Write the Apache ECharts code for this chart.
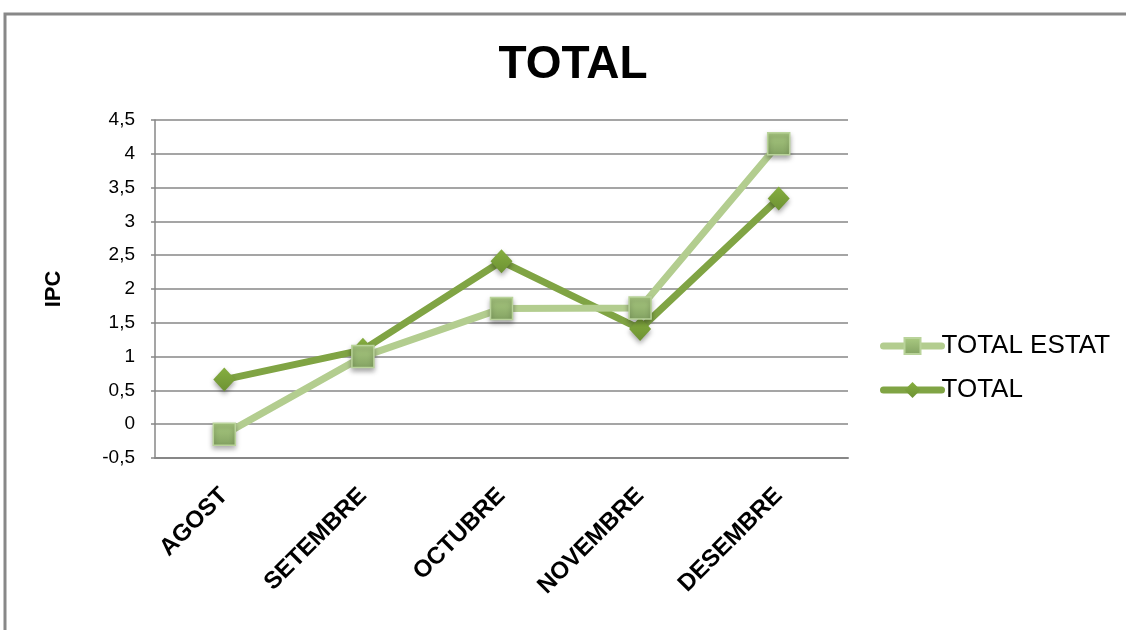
<!DOCTYPE html>
<html>
<head>
<meta charset="utf-8">
<script src="https://cdn.jsdelivr.net/npm/echarts@6/dist/echarts.min.js"></script>
<style>
html,body{margin:0;padding:0;background:#fff;}
#chart{width:1126px;height:630px;}
</style>
</head>
<body>
<div id="chart"></div>
<script>
const categories = ['AGOST', 'SETEMBRE', 'OCTUBRE', 'NOVEMBRE', 'DESEMBRE'];
const totalEstat = [-0.15, 1.0, 1.71, 1.72, 4.15];
const total = [0.66, 1.1, 2.41, 1.41, 3.34];
const yTicks = { min: -0.5, max: 4.5, interval: 0.5 };
const titleText = 'TOTAL';
const yAxisName = 'IPC';
const seriesNames = ['TOTAL ESTAT', 'TOTAL'];

const chart = echarts.init(document.getElementById('chart'));
const font = '"Liberation Sans", Arial, sans-serif';
const grid = '#878787';

function grad(top, bottom) {
  return { type: 'linear', x: 0, y: 0, x2: 0, y2: 1,
    colorStops: [{ offset: 0, color: top }, { offset: 1, color: bottom }] };
}

chart.setOption({
  animation: false,
  backgroundColor: '#fff',
  graphic: [{
    type: 'rect', silent: true, z: -1,
    shape: { x: 5, y: 14, width: 1200, height: 700 },
    style: { fill: 'none', stroke: '#888888', lineWidth: 3 }
  }],
  title: {
    text: titleText, left: 568, top: 37, textAlign: 'center',
    textStyle: { fontFamily: font, fontWeight: 'bold', fontSize: 46, color: '#000' }
  },
  legend: {
    orient: 'vertical', left: 880, top: 333, padding: 0,
    itemWidth: 58, itemHeight: 20, itemGap: 18,
    lineStyle: { width: 7, cap: 'round' },
    textStyle: { fontFamily: font, fontSize: 26, color: '#000', padding: [0, 0, 0, -5] },
    data: seriesNames
  },
  grid: { left: 155, right: 278, top: 120, bottom: 172 },
  xAxis: {
    type: 'category', data: categories, boundaryGap: true,
    axisLine: { onZero: false, lineStyle: { color: grid, width: 2 } },
    axisTick: { show: false },
    axisLabel: { rotate: 45, margin: 34, fontFamily: font, fontWeight: 'bold', fontSize: 24, color: '#000' }
  },
  yAxis: {
    type: 'value', min: yTicks.min, max: yTicks.max, interval: yTicks.interval,
    name: yAxisName, nameLocation: 'middle', nameGap: 90, nameRotate: 90,
    nameTextStyle: { fontFamily: font, fontWeight: 'bold', fontSize: 22, color: '#000' },
    axisLine: { show: true, lineStyle: { color: grid, width: 1.5 } },
    axisTick: { show: true, length: 4, lineStyle: { color: grid, width: 1.5 } },
    splitLine: { lineStyle: { color: grid, width: 1.5 } },
    axisLabel: {
      margin: 20, fontFamily: font, fontSize: 19, color: '#000',
      formatter: v => String(Math.round(v * 10) / 10).replace('.', ',')
    }
  },
  series: [
    {
      name: seriesNames[0], type: 'line', data: totalEstat, z: 4,
      symbol: 'rect', symbolSize: 22,
      lineStyle: { color: '#b3cd8f', width: 7, cap: 'round' },
      itemStyle: {
        color: grad('#abcb82', '#83a262'), borderColor: '#b9d39a', borderWidth: 1.5,
        shadowBlur: 5, shadowOffsetY: 3, shadowColor: 'rgba(0,0,0,0.35)'
      }
    },
    {
      name: seriesNames[1], type: 'line', data: total, z: 3,
      symbol: 'diamond', symbolSize: [22, 24],
      lineStyle: { color: '#80a444', width: 7, cap: 'round' },
      itemStyle: {
        color: grad('#86ae40', '#6d9233'), borderWidth: 0,
        shadowBlur: 5, shadowOffsetY: 3, shadowColor: 'rgba(0,0,0,0.35)'
      }
    }
  ]
});
</script>
</body>
</html>
